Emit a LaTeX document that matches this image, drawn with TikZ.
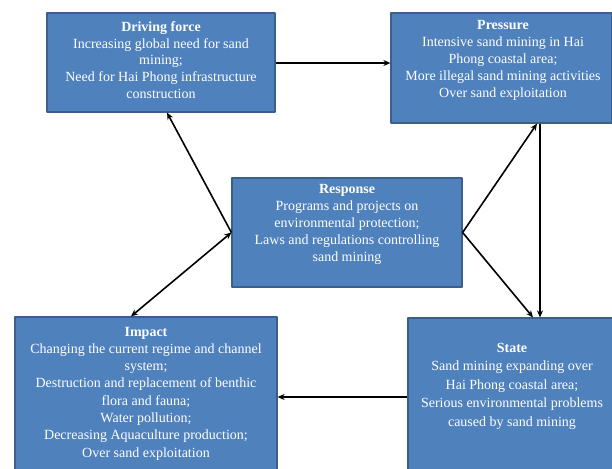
\documentclass[tikz,border=0pt]{standalone}
\usepackage{fontspec}
\setmainfont{Liberation Serif}
\usetikzlibrary{arrows.meta}
\definecolor{boxfill}{HTML}{4F81BD}
\definecolor{boxline}{HTML}{3A5F8B}
\tikzset{
  dpsirbox/.style={draw=boxline, fill=boxfill, line width=1.2pt, inner sep=0pt},
  dpsirtext/.style={text=white, align=center, inner sep=0pt, font=\fontsize{14}{16.8}\selectfont},
  link/.style={-{Stealth[length=7pt,width=6pt]}, line width=1.6pt, black},
  dlink/.style={{Stealth[length=7pt,width=6pt]}-{Stealth[length=7pt,width=6pt]}, line width=1.6pt, black}
}
\begin{document}
\begin{tikzpicture}[x=1pt, y=-1pt, line join=round]
\useasboundingbox (0,0) rectangle (612,468);
% boxes
\node[dpsirbox, minimum width=228pt, minimum height=99pt] (drive) at (161,62.5) {};
\node[dpsirbox, minimum width=221pt, minimum height=110pt] (press) at (501.5,68) {};
\node[dpsirbox, minimum width=230pt, minimum height=109pt] (resp) at (347,232.5) {};
\node[dpsirbox, minimum width=262pt, minimum height=155pt] (impact) at (146,394.5) {};
\node[dpsirbox, minimum width=208pt, minimum height=154pt] (state) at (512,395) {};
% texts
\node[dpsirtext] (drivetxt) at (161,60) {\textbf{Driving force}\\Increasing global need for sand\\mining;\\Need for Hai Phong infrastructure\\construction};
\node[dpsirtext] (presstxt) at (503,60.5) {\textbf{Pressure}\\Intensive sand mining in Hai\\Phong coastal area;\\More illegal sand mining activities\\Over sand exploitation};
\node[dpsirtext] (resptxt) at (347,224.5) {\textbf{Response}\\Programs and projects on\\environmental protection;\\Laws and regulations controlling\\sand mining};
\node[dpsirtext, font=\fontsize{14}{17.3}\selectfont] (impacttxt) at (146,393.5) {\textbf{Impact}\\Changing the current regime and channel\\system;\\Destruction and replacement of benthic\\flora and fauna;\\Water pollution;\\Decreasing Aquaculture production;\\Over sand exploitation};
\node[dpsirtext, font=\fontsize{14}{18.5}\selectfont] (statetxt) at (512,386) {\textbf{State}\\Sand mining expanding over\\Hai Phong coastal area;\\Serious environmental problems\\caused by sand mining};
% connectors
\draw[link] (drive.east |- 0,63) -- (press.west |- 0,63);
\draw[link] ([xshift=38.5pt]press.south) -- ([xshift=38.5pt]press.south |- state.north);
\draw[link] (resp.east) -- ([xshift=35.5pt]press.south);
\draw[link] (resp.east) -- ([xshift=21pt]state.north);
\draw[link] (resp.west) -- ([xshift=6pt]drive.south);
\draw[dlink] ([xshift=-15pt]impact.north) -- (resp.west);
\draw[link] (state.west |- 0,397) -- (impact.east |- 0,397);
\end{tikzpicture}
\end{document}
